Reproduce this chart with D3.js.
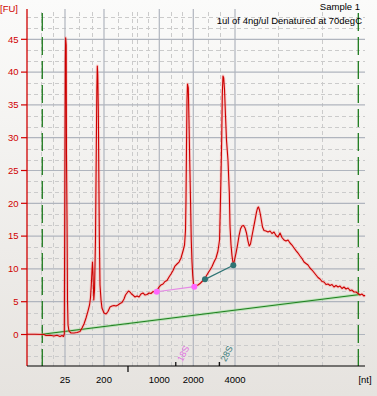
<!DOCTYPE html>
<html><head><meta charset="utf-8">
<script src="https://cdn.jsdelivr.net/npm/d3@7"></script>
<style>html,body{margin:0;padding:0;background:#fff;} svg{display:block;}</style>
</head><body><svg id="c" width="377" height="396"></svg>
<script>
// ---- data (time in seconds, fluorescence in FU) ----
const timeS = [18.00,19.18,20.51,20.81,21.40,21.99,22.44,22.88,23.18,23.40,23.52,23.59,23.67,23.72,23.80,23.84,23.92,23.99,24.07,24.21,24.51,24.95,25.40,25.84,26.14,26.43,26.73,27.02,27.25,27.39,27.51,27.62,27.69,27.76,27.88,27.99,28.13,28.25,28.33,28.40,28.47,28.55,28.62,28.70,28.80,28.95,29.09,29.39,29.69,29.98,30.28,30.57,30.87,31.17,31.46,31.76,32.05,32.35,32.57,32.79,33.01,33.24,33.46,33.68,33.98,34.27,34.57,34.86,35.16,35.46,35.75,36.05,36.34,36.64,36.93,37.23,37.53,37.82,38.12,38.41,38.71,39.01,39.30,39.60,39.89,40.19,40.49,40.78,41.08,41.30,41.45,41.52,41.59,41.67,41.74,41.86,41.96,42.07,42.19,42.30,42.41,42.51,42.63,42.78,43.00,43.30,43.59,43.89,44.18,44.48,44.78,45.07,45.37,45.66,45.96,46.25,46.48,46.59,46.70,46.80,46.89,46.99,47.10,47.22,47.36,47.51,47.73,47.93,48.03,48.18,48.33,48.52,48.70,48.92,49.14,49.36,49.58,49.80,50.03,50.25,50.47,50.69,50.88,51.06,51.28,51.51,51.73,51.95,52.10,52.24,52.39,52.54,52.69,52.84,53.06,53.36,53.65,53.95,54.24,54.54,54.83,55.13,55.43,55.72,56.02,56.31,56.61,56.91,57.20,57.50,57.79,58.09,58.39,58.68,58.98,59.27,59.57,59.86,60.16,60.46,60.75,61.05,61.34,61.64,61.94,62.23,62.53,62.82,63.12,63.41,63.71,64.01,64.30,64.60,64.89,65.19,65.49,65.78,66.08,66.37,66.67,66.97,67.26,67.56,67.85,68.00];
const fuValues = [0.03,0.03,0.00,-0.15,-0.12,-0.23,-0.11,-0.30,-0.15,-0.30,0.08,20.50,41.84,45.24,44.13,27.44,17.45,5.26,1.45,0.53,0.23,0.23,0.30,0.46,0.99,1.60,2.52,3.58,4.50,5.56,7.55,9.83,11.05,9.53,5.26,6.78,14.41,28.13,37.27,40.93,39.56,34.22,25.08,15.02,7.55,5.26,4.04,3.28,3.13,3.51,4.19,4.34,4.42,4.34,4.50,4.73,4.88,5.41,6.02,6.33,6.63,6.48,6.17,6.02,5.72,5.87,5.72,6.17,6.33,6.02,6.10,6.33,6.25,6.55,6.48,6.71,7.24,7.55,7.70,8.08,8.23,8.77,9.22,9.76,10.44,10.75,11.05,11.66,12.73,13.64,15.93,20.50,28.13,35.75,38.19,37.58,32.70,26.60,20.50,14.41,11.05,9.07,7.70,7.24,7.47,7.55,7.77,8.08,8.38,8.84,9.38,9.83,10.37,11.05,11.66,12.73,14.41,18.98,24.31,29.65,36.51,39.41,39.10,37.27,33.46,29.65,26.60,21.57,16.54,13.64,11.97,10.59,11.36,12.42,13.64,15.02,16.08,16.54,16.62,16.24,15.47,14.25,13.49,13.80,15.02,16.24,17.45,18.67,19.28,19.44,18.98,18.22,17.30,16.39,15.85,15.78,15.63,15.78,15.40,15.63,15.09,14.86,15.47,14.79,14.41,14.25,14.41,13.95,13.64,13.19,12.80,12.42,11.97,11.59,11.05,10.82,10.59,10.14,9.83,9.45,9.07,8.69,8.46,8.08,8.00,7.62,7.70,7.47,7.62,7.24,7.47,7.24,7.39,7.01,7.24,6.94,7.09,6.71,6.78,6.48,6.48,6.25,6.02,6.17,5.87,6.02];

const ladderTimes  = [23.62, 29.39, 32.94, 37.57, 42.60, 48.77];
const ladderLabels = ["25", "200", "", "1000", "2000", "4000"];
const majorGridTimes = [23.62, 29.39, 37.57, 42.60, 48.77];
const minorGridTimes = [20.03, 21.89, 25.74, 27.57, 31.51, 33.49, 34.23, 35.94, 39.24, 40.88, 44.73, 46.55, 55.18, 61.60];
const yTicks = [0, 5, 10, 15, 20, 25, 30, 35, 40, 45];
const yMinorGrid = [-3.33, -1.67, 1.67, 3.33, 6.67, 8.33, 11.67, 13.33, 16.67, 18.33, 21.67, 23.33, 26.67, 28.33, 31.67, 33.33, 36.67, 38.33, 41.67, 43.33, 46.67, 48.33];
const yMajorGrid = [0, 5, 10, 15, 20, 25, 30, 35, 40, 45];

const fragmentNames = ["18S", "28S"];
const fragmentTickTimes = [40.01, 46.45];
const fragStartTimes = [37.19, 44.33];
const fragStartFU    = [6.52, 8.41];
const fragEndTimes   = [42.75, 48.52];
const fragEndFU      = [7.29, 10.55];

const baselineTimes = [20.26, 67.26];
const baselineFU    = [0.03, 6.10];
const markerTimes   = [20.26, 67.01];

const titleLines = ["Sample 1", "1ul of 4ng/ul Denatured at 70degC"];

// ---- drawing ----
const svg = d3.select("#c");
const W = 377, H = 396;
const x = d3.scaleLinear().domain([18, 68]).range([27, 365]);
const y = d3.scaleLinear().domain([-4.80, 49.62]).range([366, 9]);
const FONT = "'Liberation Sans', Arial, sans-serif";

const defs = svg.append("defs");
const g = defs.append("linearGradient").attr("id","bg").attr("x1",0).attr("y1",0).attr("x2",0).attr("y2",1);
g.append("stop").attr("offset","0%").attr("stop-color","#fbfbfa");
g.append("stop").attr("offset","100%").attr("stop-color","#e6e3df");
svg.append("rect").attr("width",W).attr("height",H).attr("fill","url(#bg)");

const grid = svg.append("g");
grid.selectAll(".hmin").data(yMinorGrid).join("line")
  .attr("x1", x.range()[0]).attr("x2", x.range()[1])
  .attr("y1", d => Math.round(y(d)) + 0.5).attr("y2", d => Math.round(y(d)) + 0.5)
  .attr("stroke", "#cbcbcb").attr("stroke-width", 1).attr("stroke-dasharray", "4,3");
grid.selectAll(".vmin").data(minorGridTimes).join("line")
  .attr("y1", y.range()[0]).attr("y2", y.range()[1])
  .attr("x1", d => Math.round(x(d)) + 0.5).attr("x2", d => Math.round(x(d)) + 0.5)
  .attr("stroke", "#cbcbcb").attr("stroke-width", 1).attr("stroke-dasharray", "4,3");
grid.selectAll(".hmaj").data(yMajorGrid).join("line")
  .attr("x1", x.range()[0]).attr("x2", x.range()[1])
  .attr("y1", d => y(d)).attr("y2", d => y(d))
  .attr("stroke", "#b0b5be").attr("stroke-width", 1.2);
grid.selectAll(".vmaj").data(majorGridTimes).join("line")
  .attr("y1", y.range()[0]).attr("y2", y.range()[1])
  .attr("x1", d => x(d)).attr("x2", d => x(d))
  .attr("stroke", "#b0b5be").attr("stroke-width", 1.2);

// marker lines
svg.selectAll(".mk").data(markerTimes).join("line")
  .attr("x1", d => x(d)).attr("x2", d => x(d))
  .attr("y1", y.range()[1] + 4).attr("y2", y.range()[0])
  .attr("stroke", "#1d7a1d").attr("stroke-width", 1.3).attr("stroke-dasharray", "18,6");

// baseline
const bl = d3.line().x((d,i) => x(baselineTimes[i])).y(d => y(d));
svg.append("path").attr("d", bl(baselineFU)).attr("fill","none").attr("stroke","rgba(120,220,120,0.4)").attr("stroke-width",2.8);
svg.append("path").attr("d", bl(baselineFU)).attr("fill","none").attr("stroke","#1f7f1f").attr("stroke-width",1.1);

// data trace
const line = d3.line().x((d,i) => x(timeS[i])).y(d => y(d));
svg.append("path").attr("d", line(fuValues)).attr("fill","none").attr("stroke","rgba(255,120,120,0.3)").attr("stroke-width",3).attr("stroke-linejoin","round");
svg.append("path").attr("d", line(fuValues)).attr("fill","none").attr("stroke","#cc0000").attr("stroke-width",1.1).attr("stroke-linejoin","round");

// fragment region lines and points
const fragLineColors = ["#e58ae5", "#2f7474"];
const fragPointColors = ["#ff66ff", "#2f7474"];
fragmentNames.forEach((n, i) => {
  svg.append("line").attr("x1", x(fragStartTimes[i])).attr("y1", y(fragStartFU[i]))
    .attr("x2", x(fragEndTimes[i])).attr("y2", y(fragEndFU[i]))
    .attr("stroke", fragLineColors[i]).attr("stroke-width", 1.2);
  [[fragStartTimes[i], fragStartFU[i]], [fragEndTimes[i], fragEndFU[i]]].forEach(p => {
    svg.append("circle").attr("cx", x(p[0])).attr("cy", y(p[1])).attr("r", 3)
      .attr("fill", fragPointColors[i]);
  });
});

// y axis
svg.append("line").attr("x1", 27).attr("x2", 27).attr("y1", y.range()[1]).attr("y2", y.range()[0])
  .attr("stroke", "#d00000").attr("stroke-width", 1.3);
const yAx = svg.append("g");
yAx.selectAll("line").data(yTicks).join("line")
  .attr("x1", 21).attr("x2", 27).attr("y1", d => y(d)).attr("y2", d => y(d))
  .attr("stroke", "#d00000").attr("stroke-width", 1.2);
yAx.selectAll("text").data(yTicks).join("text")
  .attr("x", 18.5).attr("y", d => y(d) + 3.3).attr("text-anchor", "end")
  .attr("font-family", FONT).attr("font-size", 9.5).attr("fill", "#d00000").text(d => d);
svg.append("text").attr("x", 0).attr("y", 12).attr("font-family", FONT).attr("font-size", 9.5)
  .attr("fill", "#d00000").text("[FU]");

// x axis
svg.append("line").attr("x1", 27).attr("x2", 365).attr("y1", 366).attr("y2", 366)
  .attr("stroke", "#000").attr("stroke-width", 1.2);
const xAx = svg.append("g");
ladderTimes.forEach((t, i) => {
  if (ladderLabels[i] === "") {
    xAx.append("line").attr("x1", x(t)).attr("x2", x(t)).attr("y1", 366).attr("y2", 372)
      .attr("stroke", "#000").attr("stroke-width", 1.2);
  } else {
    xAx.append("text").attr("x", x(t)).attr("y", 383).attr("text-anchor", "middle")
      .attr("font-family", FONT).attr("font-size", 9.5).attr("fill", "#000").text(ladderLabels[i]);
  }
});
fragmentTickTimes.forEach(t => {
  xAx.append("line").attr("x1", x(t)).attr("x2", x(t)).attr("y1", 362).attr("y2", 366)
    .attr("stroke", "#000").attr("stroke-width", 1.2);
});
const fragTextColors = ["#e070e0", "#3a7a7a"];
fragmentNames.forEach((n, i) => {
  svg.append("text").attr("transform", `translate(${x(fragmentTickTimes[i]) + 8},${354}) rotate(-62)`)
    .attr("text-anchor", "middle").attr("dominant-baseline", "middle")
    .attr("font-family", FONT).attr("font-size", 9).attr("fill", fragTextColors[i]).text(n);
});
svg.append("text").attr("x", 365).attr("y", 383).attr("text-anchor", "middle")
  .attr("font-family", FONT).attr("font-size", 9.5).attr("fill", "#000").text("[nt]");

// titles
svg.append("text").attr("x", 360).attr("y", 9.5).attr("text-anchor", "end")
  .attr("font-family", FONT).attr("font-size", 9.5).attr("fill", "#000").text(titleLines[0]);
svg.append("text").attr("x", 362).attr("y", 24).attr("text-anchor", "end")
  .attr("font-family", FONT).attr("font-size", 9.5).attr("fill", "#000").text(titleLines[1]);
</script></body></html>
